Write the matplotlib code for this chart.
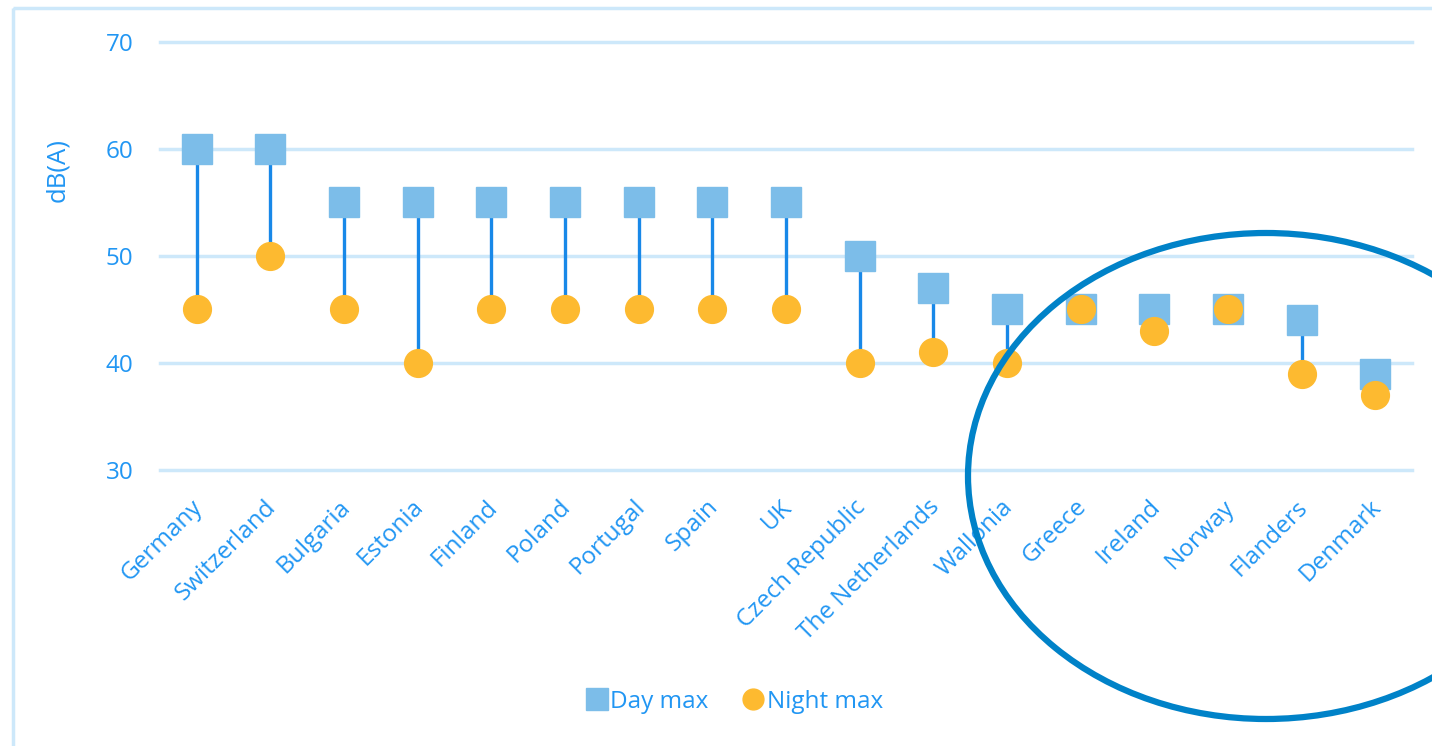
import matplotlib
matplotlib.use("Agg")
import matplotlib.pyplot as plt
import matplotlib.transforms as mtransforms
from matplotlib.patches import Ellipse, Rectangle
from matplotlib.lines import Line2D

countries = ["Germany", "Switzerland", "Bulgaria", "Estonia", "Finland", "Poland",
             "Portugal", "Spain", "UK", "Czech Republic", "The Netherlands",
             "Wallonia", "Greece", "Ireland", "Norway", "Flanders", "Denmark"]
day_max = [60, 60, 55, 55, 55, 55, 55, 55, 55, 50, 47, 45, 45, 45, 45, 44, 39]
night_max = [45, 50, 45, 40, 45, 45, 45, 45, 45, 40, 41, 40, 45, 43, 45, 39, 37]
yticks = [30, 40, 50, 60, 70]

TXT = "#2196F3"
GRID = "#CDE8FA"
SQ = "#7CBDE9"
CIR = "#FDBA30"
STEM = "#1888E8"

plt.rcParams['font.family'] = ['Open Sans', 'DejaVu Sans']

W, H = 1432, 746
fig = plt.figure(figsize=(W / 100, H / 100), dpi=100)
ax = fig.add_axes([160 / W, 1 - 470 / H, (1412 - 160) / W, (470 - 42) / H])

x = list(range(len(countries)))
for xi, d, n in zip(x, day_max, night_max):
    ax.plot([xi, xi], [n, d], color=STEM, lw=2.4, zorder=2, solid_capstyle='butt')
ax.plot(x, day_max, ls='none', marker='s', ms=21, color=SQ, mec=SQ, zorder=3)
ax.plot(x, night_max, ls='none', marker='o', ms=20, color=CIR, mec=CIR, zorder=4)

ax.set_xlim(-0.5, len(countries) - 0.5)
ax.set_ylim(30, 70)
ax.set_yticks(yticks)
ax.yaxis.grid(True, color=GRID, lw=2.5)
for gl in ax.get_ygridlines():
    gl.set_clip_on(False)
ax.set_axisbelow(True)
for s in ax.spines.values():
    s.set_visible(False)
ax.tick_params(axis='y', length=0, pad=19, labelcolor=TXT, labelsize=17.5)
ax.tick_params(axis='x', length=0, pad=18, labelcolor=TXT, labelsize=17.5)
ax.set_xticks(x)
ax.set_xticklabels(countries, rotation=45, ha='right', rotation_mode='anchor')
for lab in ax.get_xticklabels():
    lab.set_transform(lab.get_transform() + mtransforms.ScaledTranslation(-6 / 100, 0, fig.dpi_scale_trans))
ax.set_ylabel("dB(A)", color=TXT, fontsize=18.5)
ax.yaxis.set_label_coords((70 - 160) / (1412 - 160), (470 - 170) / (470 - 42))

handles = [Line2D([], [], ls='none', marker='s', ms=16, color=SQ, mec=SQ, label="Day max"),
           Line2D([], [], ls='none', marker='o', ms=15, color=CIR, mec=CIR, label="Night max")]
leg = fig.legend(handles=handles, loc='center', bbox_to_anchor=(733 / W, 1 - 702 / H),
                 ncol=2, frameon=False, fontsize=17.5, handletextpad=0.0,
                 columnspacing=1.3, handlelength=1.1)
for t in leg.get_texts():
    t.set_color(TXT)

# overlay in pixel coordinates
ov = fig.add_axes([0, 0, 1, 1], zorder=10)
ov.set_xlim(0, W)
ov.set_ylim(H, 0)
ov.axis('off')
ov.add_patch(Rectangle((13, 8), W, H, fill=False, ec=GRID, lw=2.5))
ov.add_patch(Ellipse((1266, 476), 596, 486, fill=False, ec="#0082C8", lw=4.5))

fig.savefig("out.png", dpi=100, facecolor='white')
